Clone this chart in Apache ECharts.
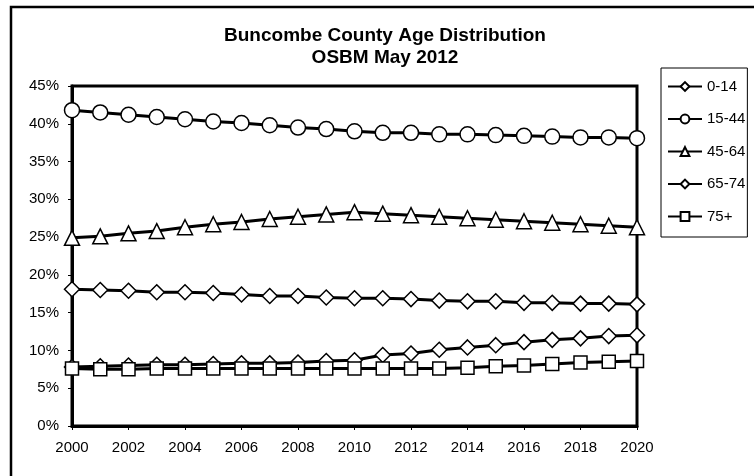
<!DOCTYPE html>
<html><head><meta charset="utf-8">
<script src="https://cdn.jsdelivr.net/npm/echarts@6/dist/echarts.min.js"></script>
<style>html,body{margin:0;padding:0;background:#fff}#c{width:754px;height:476px}</style>
</head><body><div id="c"></div>
<script>
var years = ['2000','2001','2002','2003','2004','2005','2006','2007','2008','2009','2010','2011','2012','2013','2014','2015','2016','2017','2018','2019','2020'];
var age0_14  = [18.1,18.0,17.9,17.7,17.7,17.6,17.4,17.2,17.2,17.0,16.9,16.9,16.8,16.6,16.5,16.5,16.3,16.3,16.2,16.2,16.1];
var age15_44 = [41.8,41.5,41.2,40.9,40.6,40.3,40.1,39.8,39.5,39.3,39.0,38.8,38.8,38.6,38.6,38.5,38.4,38.3,38.2,38.2,38.1];
var age45_64 = [24.9,25.1,25.5,25.8,26.3,26.7,27.0,27.4,27.7,28.0,28.3,28.1,27.9,27.7,27.5,27.3,27.1,26.9,26.7,26.5,26.3];
var age65_74 = [7.8,7.9,8.0,8.1,8.1,8.2,8.3,8.3,8.4,8.6,8.7,9.4,9.6,10.1,10.4,10.7,11.1,11.4,11.6,11.9,12.0];
var age75p   = [7.6,7.5,7.5,7.6,7.6,7.6,7.6,7.6,7.6,7.6,7.6,7.6,7.6,7.6,7.7,7.9,8.0,8.2,8.4,8.5,8.6];
var seriesNames = ['0-14','15-44','45-64','65-74','75+'];

var FONT = '"Liberation Sans", Arial, sans-serif';
function mk(name, data, symbol, size) {
  return {
    name: name, type: 'line', data: data,
    symbol: symbol, symbolSize: size, showAllSymbol: true,
    lineStyle: {color: '#000', width: 3},
    itemStyle: {color: '#fff', borderColor: '#000', borderWidth: 1.5},
    emphasis: {disabled: true},
    animation: false
  };
}
var chart = echarts.init(document.getElementById('c'), null, {renderer: 'canvas'});
chart.setOption({
  backgroundColor: '#fff',
  animation: false,
  title: {
    text: 'Buncombe County Age Distribution\nOSBM May 2012',
    left: 385, top: 25, textAlign: 'center', padding: 0,
    textStyle: {fontFamily: FONT, fontSize: 19, fontWeight: 'bold', color: '#000', lineHeight: 22}
  },
  legend: {
    orient: 'vertical', left: 661, top: 68,
    data: seriesNames,
    padding: [11, 2, 13, 6],
    itemWidth: 34, itemHeight: 11, itemGap: 17.5,
    borderColor: '#000', borderWidth: 1, backgroundColor: '#fff',
    textStyle: {fontFamily: FONT, fontSize: 15, color: '#000', lineHeight: 15},
    selectedMode: false
  },
  grid: {left: 72, right: 117, top: 86, bottom: 50, show: true, borderColor: '#000', borderWidth: 3, backgroundColor: '#fff'},
  xAxis: {
    type: 'category', data: years, boundaryGap: false,
    axisLine: {lineStyle: {color: '#000', width: 3}},
    axisTick: {show: true, interval: 1, length: 4, lineStyle: {color: '#000', width: 1}},
    axisLabel: {interval: 1, margin: 14, fontFamily: FONT, fontSize: 15, color: '#000'},
    splitLine: {show: false}
  },
  yAxis: {
    type: 'value', min: 0, max: 45, interval: 5,
    axisLine: {show: true, lineStyle: {color: '#000', width: 3}},
    axisTick: {show: true, length: 4, lineStyle: {color: '#000', width: 1}},
    axisLabel: {formatter: '{value}%', margin: 13, fontFamily: FONT, fontSize: 15, color: '#000'},
    splitLine: {show: false}
  },
  graphic: [{
    type: 'rect', shape: {x: 11, y: 7, width: 800, height: 520},
    style: {fill: 'none', stroke: '#000', lineWidth: 2.5}, silent: true, z: 0
  }],
  series: [
    mk('0-14', age0_14, 'diamond', 15),
    mk('15-44', age15_44, 'circle', 15),
    mk('45-64', age45_64, 'triangle', 15),
    mk('65-74', age65_74, 'diamond', 15),
    mk('75+', age75p, 'rect', 13)
  ]
});
</script>
</body></html>
